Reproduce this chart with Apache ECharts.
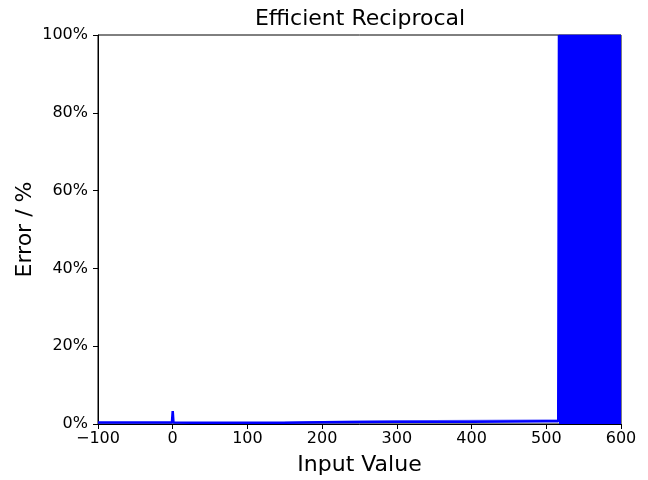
<!DOCTYPE html>
<html>
<head>
<meta charset="utf-8">
<script src="https://cdn.jsdelivr.net/npm/echarts@6/dist/echarts.min.js"></script>
<style>
  html, body { margin: 0; padding: 0; background: #fff; }
  #chart { width: 648px; height: 480px; }
</style>
</head>
<body>
<div id="chart"></div>
<script>
// Relative error of the fast reciprocal approximation, in percent
const inputs = [-100, -75, -50, -25, -1, 0, 1, 25, 50, 75, 100, 150, 200, 250, 300, 350, 400, 450, 500, 516];
const errors = [0.4, 0.4, 0.4, 0.4, 0.4, 3.3, 0.4, 0.3, 0.3, 0.3, 0.3, 0.35, 0.45, 0.5, 0.55, 0.6, 0.6, 0.65, 0.7, 0.7];

// Peak of the rapidly oscillating error at larger inputs
const peakInputs = [150, 200, 250, 300, 350, 400, 450, 500, 516];
const peakErrors = [0.4, 0.6, 0.7, 0.8, 0.85, 0.9, 0.95, 1.0, 1.0];

// Beyond this input the approximation breaks down and the error saturates the axis
const overflowInputs = [517, 600];
const overflowErrors = [100, 100];

const xTicks = [-100, 0, 100, 200, 300, 400, 500, 600];
const yTicks = [0, 20, 40, 60, 80, 100];

const font = 'DejaVu Sans';
const blue = '#0000ff';

const mainData = inputs.map((x, i) => [x, errors[i]]);
mainData.push([overflowInputs[0], overflowErrors[0]]);
const peakData = peakInputs.map((x, i) => [x, peakErrors[i]]);
const overflowData = overflowInputs.map((x, i) => [x, overflowErrors[i]]);

const chart = echarts.init(document.getElementById('chart'));
chart.setOption({
  animation: false,
  backgroundColor: '#fff',
  title: {
    text: 'Efficient Reciprocal',
    left: 355, top: 3, textAlign: 'center',
    textStyle: { fontFamily: font, fontSize: 22, fontWeight: 'normal', color: '#000' }
  },
  grid: {
    left: 98, right: 27, top: 35, bottom: 56,
    outerBoundsMode: 'none', containLabel: false,
    show: true, borderColor: '#000', borderWidth: 1, backgroundColor: 'transparent'
  },
  xAxis: {
    type: 'value', min: xTicks[0], max: xTicks[xTicks.length - 1], interval: 100,
    name: 'Input Value', nameLocation: 'middle', nameGap: 30, nameMoveOverlap: false,
    nameTextStyle: { fontFamily: font, fontSize: 22, color: '#000' },
    axisLine: { show: true, onZero: false, lineStyle: { color: '#000', width: 1 } },
    axisTick: { show: true, inside: false, length: 5, lineStyle: { color: '#000' } },
    axisLabel: {
      fontFamily: font, fontSize: 16, color: '#000', margin: 7,
      formatter: v => String(v).replace('-', '\u2212')
    },
    splitLine: { show: false }
  },
  yAxis: {
    type: 'value', min: yTicks[0], max: yTicks[yTicks.length - 1], interval: 20,
    name: 'Error / %', nameLocation: 'middle', nameGap: 62, nameMoveOverlap: false,
    nameTextStyle: { fontFamily: font, fontSize: 22, color: '#000' },
    axisLine: { show: true, onZero: false, lineStyle: { color: '#000', width: 1 } },
    axisTick: { show: true, inside: false, length: 5, lineStyle: { color: '#000' } },
    axisLabel: { fontFamily: font, fontSize: 16, color: '#000', margin: 10, formatter: '{value}%' },
    splitLine: { show: false }
  },
  series: [
    {
      type: 'line', data: peakData, showSymbol: false, symbol: 'none',
      lineStyle: { color: 'rgba(0,0,255,0.45)', width: 1.5 }, clip: true, z: 2
    },
    {
      type: 'line', data: mainData, showSymbol: false, symbol: 'none',
      lineStyle: { color: blue, width: 2.5 }, clip: true, z: 3
    },
    {
      type: 'line', data: overflowData, showSymbol: false, symbol: 'none',
      lineStyle: { color: blue, width: 1 },
      areaStyle: { color: blue, opacity: 1, origin: 'start' }, clip: true, z: 2
    }
  ]
});
</script>
</body>
</html>
